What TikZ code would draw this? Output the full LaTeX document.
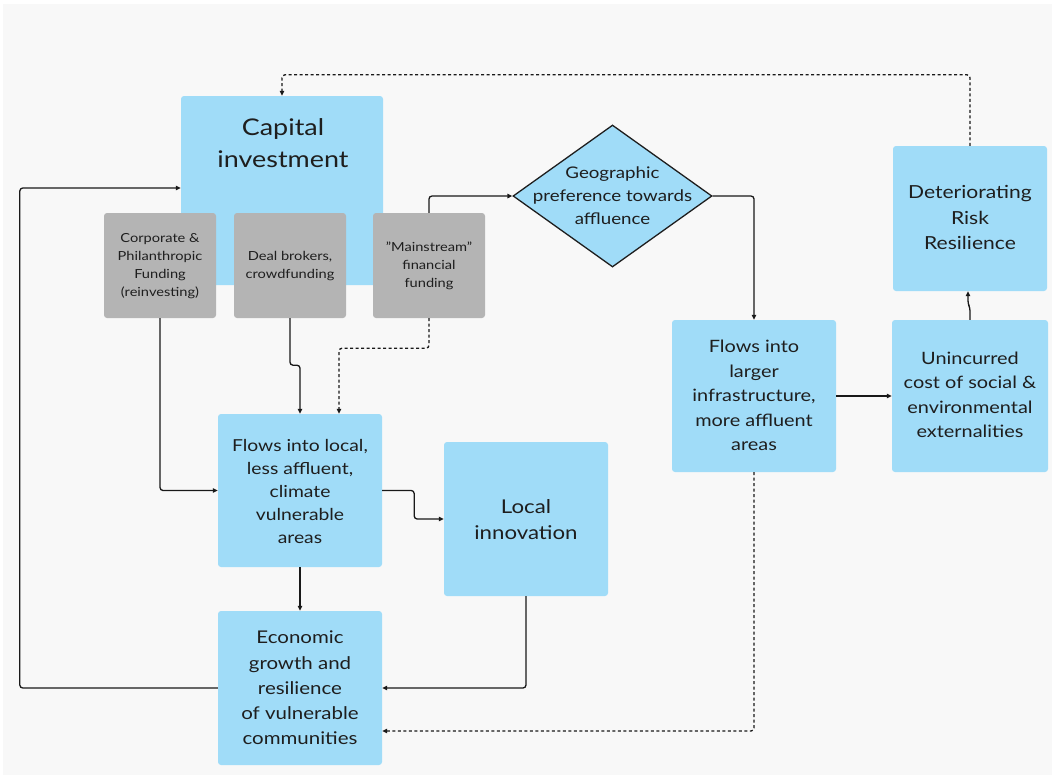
\documentclass[tikz,border=0pt]{standalone}
\usepackage{fontspec}
\setmainfont{Lato}[FakeStretch=1.17]
\usetikzlibrary{arrows.meta,shapes.geometric}
\definecolor{bgc}{HTML}{F8F8F8}
\definecolor{bluec}{HTML}{A0DCF8}
\definecolor{greyc}{HTML}{B4B4B4}
\definecolor{txt}{HTML}{1E1E1E}
\begin{document}
\begin{tikzpicture}[x=1pt,y=-1pt,
  bluebox/.style={fill=bluec,draw=none,rounded corners=3pt,inner sep=0pt},
  greybox/.style={fill=greyc,draw=none,rounded corners=3pt,inner sep=0pt},
  lbl/.style={text=txt,align=center,inner sep=0pt,font=\fontsize{17}{24.5}\selectfont},
  small/.style={text=txt,align=center,inner sep=0pt,font=\fontsize{12.5}{18}\selectfont},
  arr/.style={line width=1.3pt,draw=black!90,rounded corners=3pt,-{Triangle[length=5pt,width=4.5pt]}},
  dasharr/.style={arr,dash pattern=on 3pt off 2.5pt}]
\path[use as bounding box,fill=white] (0,0) rectangle (1052,777);
\fill[bgc] (3,4) rectangle (1052,775);
% boxes
\node[bluebox,minimum width=202,minimum height=189] (cap) at (282,190.5) {};
\node[lbl,font=\fontsize{23}{32}\selectfont] (capt) at (283,143) {Capital\\investment};
\node[greybox,minimum width=112,minimum height=105] (corp) at (160,265.5) {};
\node[small] (corpt) at (160,266) {Corporate \&\\Philanthropic\\Funding\\(reinvesting)};
\node[greybox,minimum width=112,minimum height=105] (deal) at (290,265.5) {};
\node[small] (dealt) at (290,266) {Deal brokers,\\crowdfunding};
\node[greybox,minimum width=112,minimum height=105] (main) at (429,265.5) {};
\node[small] (maint) at (429,266) {\char34 Mainstream\char34\\financial\\funding};
\node[diamond,draw=txt,line width=1.3pt,fill=bluec,inner sep=0pt,minimum width=199,minimum height=142] (geo) at (612.5,196) {};
\node[lbl,font=\fontsize{16}{23}\selectfont] (geot) at (612.5,196) {Geographic\\preference towards\\affluence};
\node[bluebox,minimum width=164,minimum height=152] (fl) at (754,396) {};
\node[lbl] (flt) at (754,395.5) {Flows into\\larger\\infrastructure,\\more affluent\\areas};
\node[bluebox,minimum width=156,minimum height=152] (unc) at (970,396) {};
\node[lbl] (unct) at (970,395) {Unincurred\\cost of social \&\\environmental\\externalities};
\node[bluebox,minimum width=154,minimum height=145] (det) at (970,218.5) {};
\node[lbl,font=\fontsize{18}{25.5}\selectfont] (dett) at (970,217.5) {Deteriorating\\Risk\\Resilience};
\node[bluebox,minimum width=164,minimum height=153] (loc) at (300,490.5) {};
\node[lbl,font=\fontsize{16.5}{23}\selectfont] (loct) at (300,491) {Flows into local,\\less affluent,\\climate\\vulnerable\\areas};
\node[bluebox,minimum width=164,minimum height=154] (inn) at (526,519) {};
\node[lbl,font=\fontsize{19}{25.5}\selectfont] (innt) at (526,519.5) {Local\\innovation};
\node[bluebox,minimum width=164,minimum height=154] (eco) at (300,688) {};
\node[lbl,font=\fontsize{17.5}{25.2}\selectfont] (ecot) at (300,688) {Economic\\growth and\\resilience\\of vulnerable\\communities};
% connectors
\draw[dasharr] (det.north) -- ++(0,-71) -| (cap.north);
\draw[arr] (main.north) |- (geo.west);
\draw[arr] (geo.east) -| (fl.north);
\draw[arr] (fl.east) -- (unc.west);
\draw[arr] (unc.north) -- ++(0,-12) -- ++(-2,-4) -- ([xshift=-2pt]det.south);
\draw[dasharr] (fl.south) |- ([yshift=-43pt]eco.east);
\draw[arr] (inn.south) |- (eco.east);
\draw[arr] (eco.west) -- ++(-198,0) |- ([yshift=2.5pt]cap.west);
\draw[arr] (corp.south) |- (loc.west);
\draw[arr] (deal.south) -- ++(0,47) -| (loc.north);
\draw[dasharr] (main.south) -- ++(0,30) -| ([xshift=39pt]loc.north);
\draw[arr] (loc.east) -- ++(32,0) |- (inn.west);
\draw[arr] (loc.south) -- (eco.north);
\end{tikzpicture}
\end{document}
